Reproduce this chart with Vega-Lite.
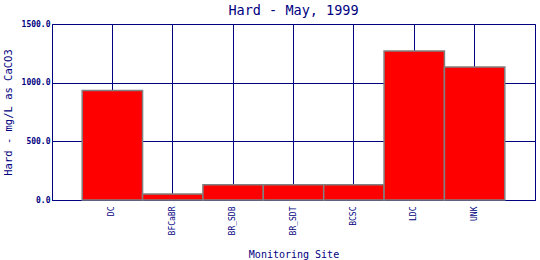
{
  "$schema": "https://vega.github.io/schema/vega-lite/v6.json",
  "autosize": "none",
  "width": 483,
  "height": 176,
  "padding": {"left": 52, "top": 24, "right": 5, "bottom": 60},
  "background": "white",
  "title": {
    "text": "Hard - May, 1999",
    "font": "DejaVu Sans Mono",
    "fontSize": 13.5,
    "fontWeight": "normal",
    "color": "#000080",
    "frame": "group",
    "offset": 3
  },
  "config": {
    "view": {"stroke": "#000080", "strokeWidth": 1},
    "axis": {
      "labelFont": "DejaVu Sans Mono",
      "titleFont": "DejaVu Sans Mono",
      "labelColor": "#000080",
      "titleColor": "#000080",
      "domainColor": "#000080",
      "gridColor": "#000080",
      "gridOpacity": 1,
      "gridWidth": 1,
      "titleFontWeight": "normal"
    }
  },
  "data": {
    "values": [
      {"site": "DC", "hard": 934},
      {"site": "BFCaBR", "hard": 51},
      {"site": "BR_SDB", "hard": 130},
      {"site": "BR_SDT", "hard": 130},
      {"site": "BCSC", "hard": 130},
      {"site": "LDC", "hard": 1270},
      {"site": "UNK", "hard": 1134}
    ]
  },
  "mark": {"type": "bar", "fill": "#ff0000", "stroke": "#808080", "strokeWidth": 1.5},
  "encoding": {
    "x": {
      "field": "site",
      "type": "nominal",
      "sort": null,
      "scale": {"paddingInner": 0, "paddingOuter": 0.5},
      "axis": {
        "title": "Monitoring Site",
        "titleFontSize": 10,
        "titlePadding": 15,
        "labelAngle": -90,
        "labelFontSize": 8,
        "labelPadding": 6,
        "ticks": false,
        "grid": true,
        "domain": true
      }
    },
    "y": {
      "field": "hard",
      "type": "quantitative",
      "scale": {"domain": [0, 1500], "nice": false},
      "axis": {
        "title": "Hard - mg/L as CaCO3",
        "titleFontSize": 10.5,
        "titlePadding": 8,
        "values": [0, 500, 1000, 1500],
        "format": ".1f",
        "labelFontSize": 8,
        "labelFontWeight": "bold",
        "labelPadding": 2,
        "ticks": false,
        "grid": true
      }
    }
  }
}
